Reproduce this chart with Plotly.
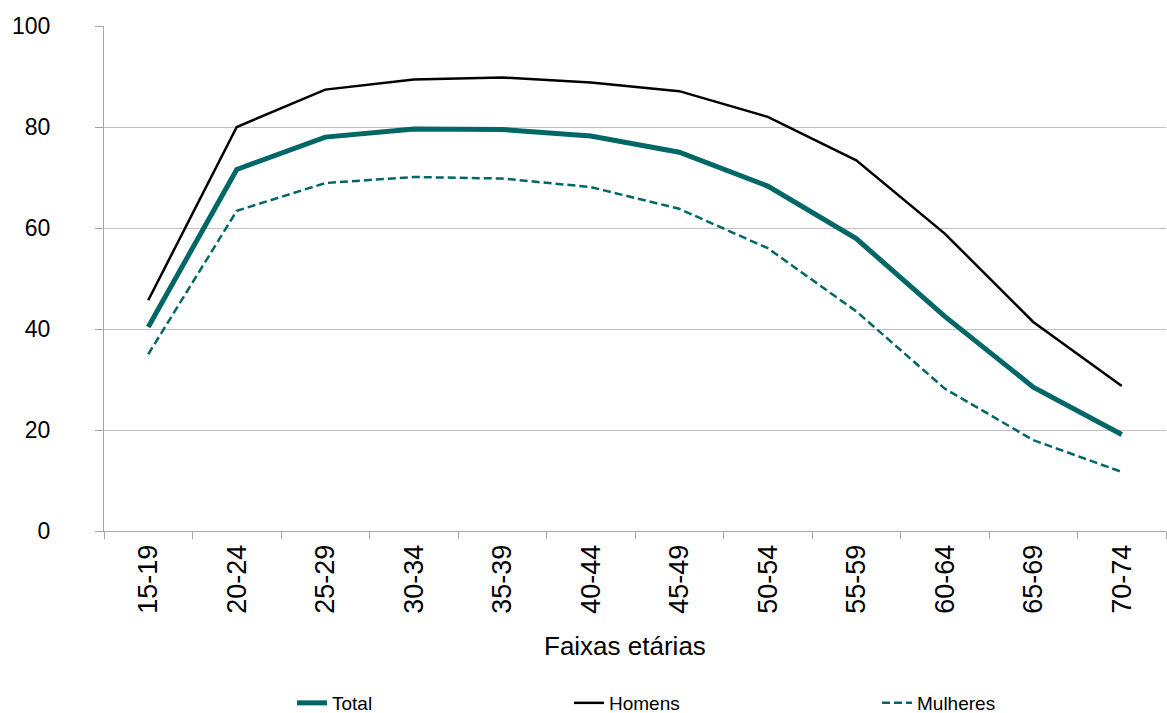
import plotly.graph_objects as go

# Faixas etárias e taxas (%) por sexo
faixas = ["15-19", "20-24", "25-29", "30-34", "35-39", "40-44",
          "45-49", "50-54", "55-59", "60-64", "65-69", "70-74"]
total = [40.4, 71.6, 78.0, 79.6, 79.5, 78.2, 75.0, 68.3, 57.9, 42.5, 28.5, 19.1]
homens = [45.7, 80.0, 87.4, 89.4, 89.8, 88.8, 87.1, 82.0, 73.4, 58.9, 41.4, 28.7]
mulheres = [35.0, 63.4, 68.9, 70.1, 69.8, 68.1, 63.8, 56.0, 43.5, 28.2, 18.0, 11.7]

TEAL = "#006666"
FONT = "Liberation Sans, Arial, sans-serif"

fig = go.Figure()
fig.add_trace(go.Scatter(x=faixas, y=total, name="Total", mode="lines",
                         line=dict(color=TEAL, width=5), legend="legend"))
fig.add_trace(go.Scatter(x=faixas, y=homens, name="Homens", mode="lines",
                         line=dict(color="#000000", width=2.5), legend="legend2"))
fig.add_trace(go.Scatter(x=faixas, y=mulheres, name="Mulheres", mode="lines",
                         line=dict(color=TEAL, width=2.5, dash="8px,4px"),
                         legend="legend3"))

legend_common = dict(orientation="h", xref="container", yref="container",
                     xanchor="left", yanchor="middle", y=1 - 703 / 713,
                     font=dict(family=FONT, size=19, color="#000000"),
                     bgcolor="rgba(0,0,0,0)")

fig.update_layout(
    width=1167, height=713,
    margin=dict(l=104, r=1, t=26, b=182),
    paper_bgcolor="white", plot_bgcolor="white",
    font=dict(family=FONT, color="#000000"),
    showlegend=True,
    legend=dict(x=292 / 1167, **legend_common),
    legend2=dict(x=569 / 1167, **legend_common),
    legend3=dict(x=877 / 1167, **legend_common),
    xaxis=dict(
        type="category", range=[-0.5, 11.5],
        tickson="boundaries", ticks="outside", ticklen=7, tickcolor="#a6a6a6",
        tickangle=-90, tickfont=dict(size=27, family=FONT, color="#000000"),
        ticklabelstandoff=2,
        showline=True, linecolor="#a6a6a6", linewidth=1,
        showgrid=False,
    ),
    yaxis=dict(
        range=[0, 100], dtick=20, tick0=0,
        ticks="outside", ticklen=8, tickcolor="#a6a6a6",
        tickfont=dict(size=23, family=FONT, color="#000000"),
        ticklabelstandoff=40,
        showline=True, linecolor="#a6a6a6", linewidth=1,
        showgrid=True, gridcolor="#c0c0c0", gridwidth=1,
        zeroline=False,
    ),
    annotations=[dict(
        text="Faixas etárias", showarrow=False,
        xref="paper", yref="paper", x=0.4906, y=-0.228,
        xanchor="center", yanchor="middle",
        font=dict(size=26, family=FONT, color="#000000"),
    )],
)

fig.write_html("out.html")
